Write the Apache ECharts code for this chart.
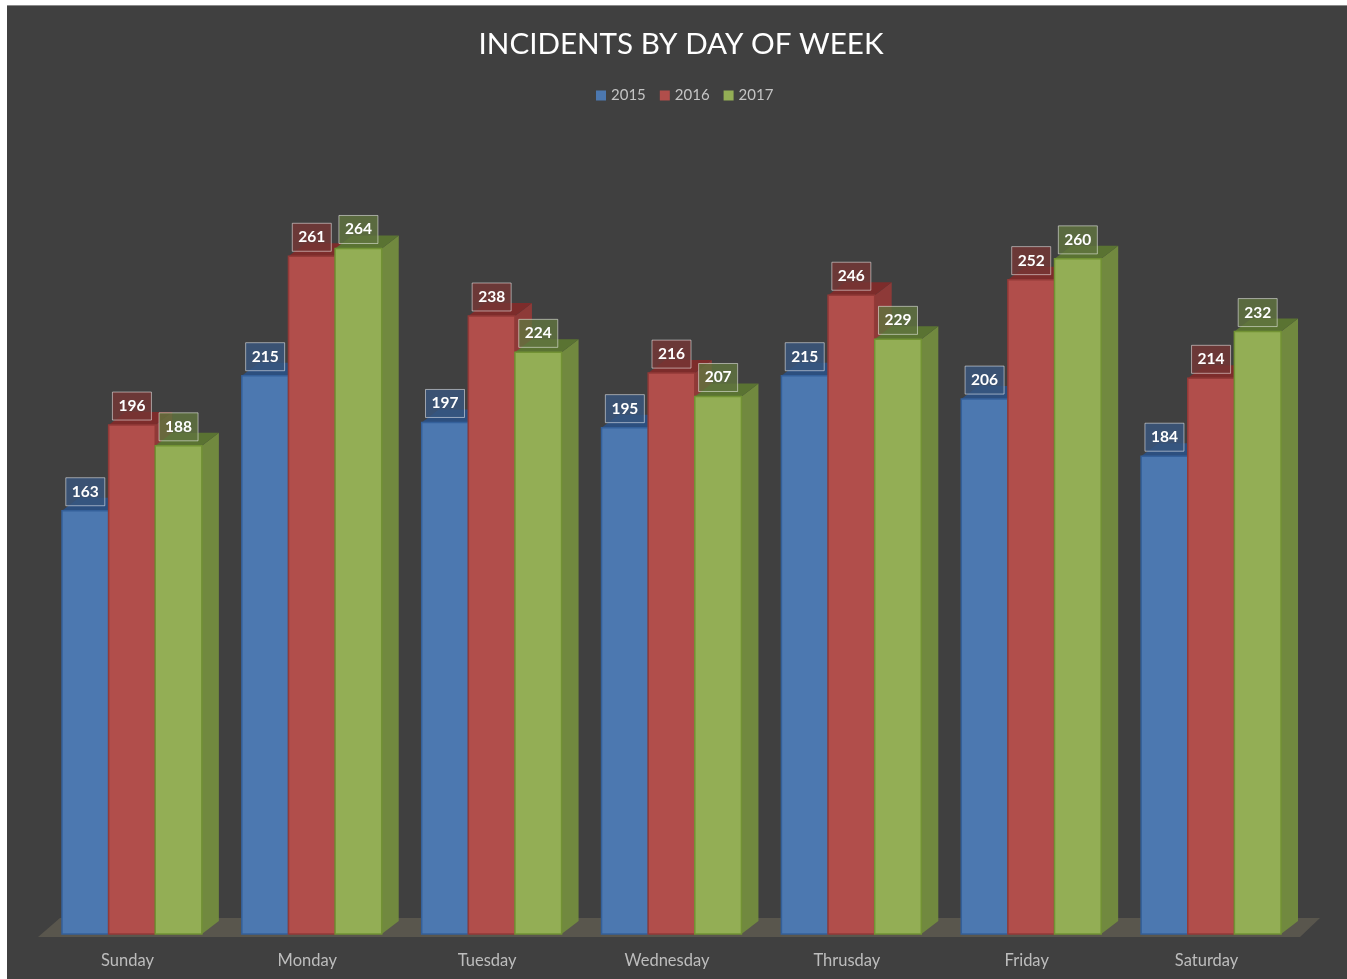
<!DOCTYPE html>
<html>
<head>
<meta charset="utf-8">
<title>Incidents by day of week</title>
<style>
    html, body { margin: 0; padding: 0; background: #fff; }
    #panel { position: absolute; left: 7px; top: 5px; width: 1340px; height: 974px; background: #404040; border-top: 1px solid #8a8a8a; box-sizing: border-box; }
    #main { position: absolute; left: 0; top: 0; width: 1347px; height: 979px; }
</style>
</head>
<body>
<div id="panel"></div>
<div id="main"></div>
<script src="https://cdn.jsdelivr.net/npm/echarts@6/dist/echarts.min.js"></script>
<script>
var days = ['Sunday', 'Monday', 'Tuesday', 'Wednesday', 'Thrusday', 'Friday', 'Saturday'];
var years = ['2015', '2016', '2017'];
var values2015 = [163, 215, 197, 195, 215, 206, 184];
var values2016 = [196, 261, 238, 216, 246, 252, 214];
var values2017 = [188, 264, 224, 207, 229, 260, 232];

// front, top, side, edge, label box
var colors = [
    ['#4c78b0', '#2c4f7f', '#3d6090', '#34609a', 'rgba(56,86,128,0.8)'],
    ['#b14e4b', '#7d2c2b', '#8e3a38', '#933a38', 'rgba(118,54,52,0.8)'],
    ['#93ae55', '#5a7332', '#71893f', '#729234', 'rgba(96,116,62,0.8)']
];

var depthX = 17;
var depthY = 13;

var myChart = echarts.init(document.getElementById('main'));

function barItem(seriesIndex) {
    return function (params, api) {
        var c = colors[seriesIndex];
        var base = api.coord([api.value(0), 0]);
        var top = api.coord([api.value(0), api.value(1)]);
        var w = api.size([1, 0])[0] * 140 / 180 / 3;
        var x0 = top[0] + (seriesIndex - 1.5) * w;
        var x1 = x0 + w;
        var y0 = top[1];
        var y1 = base[1];
        return {
            type: 'group',
            children: [
                {
                    type: 'polygon',
                    shape: { points: [[x1, y0], [x1 + depthX, y0 - depthY], [x1 + depthX, y1 - depthY], [x1, y1]] },
                    style: { fill: c[2] }
                },
                {
                    type: 'polygon',
                    shape: { points: [[x0, y0], [x0 + depthX, y0 - depthY], [x1 + depthX, y0 - depthY], [x1, y0]] },
                    style: { fill: c[1] }
                },
                {
                    type: 'rect',
                    shape: { x: x0, y: y0, width: w, height: y1 - y0 },
                    style: { fill: c[0], stroke: c[3], lineWidth: 1.5 }
                },
                {
                    type: 'rect',
                    z2: 100,
                    shape: { x: x0 + w / 2 - 19.5, y: y0 - 33, width: 39, height: 28 },
                    style: { fill: c[4], stroke: 'rgba(255,255,255,0.5)', lineWidth: 1 }
                },
                {
                    type: 'text',
                    z2: 101,
                    x: x0 + w / 2,
                    y: y0 - 19,
                    style: {
                        text: String(api.value(1)),
                        align: 'center',
                        verticalAlign: 'middle',
                        fill: '#fff',
                        font: 'bold 15.5px Lato'
                    }
                }
            ]
        };
    };
}

function floorItem(params) {
    var g = params.coordSys;
    var y0 = g.y + g.height + 3;
    var y1 = y0 - 19;
    return {
        type: 'polygon',
        shape: { points: [[g.x - 4, y0], [g.x + 18, y1], [g.x + g.width + 19, y1], [g.x + g.width - 1, y0]] },
        style: { fill: '#59564d' }
    };
}

function barSeries(i, values) {
    return {
        name: years[i],
        type: 'custom',
        renderItem: barItem(i),
        clip: false,
        itemStyle: { color: colors[i][0] },
        encode: { x: 0, y: 1 },
        data: values.map(function (v, k) { return [k, v]; })
    };
}

var option = {
    backgroundColor: 'transparent',
    animation: false,
    title: {
        text: 'INCIDENTS BY DAY OF WEEK',
        left: 676,
        top: 24,
        textAlign: 'center',
        textStyle: { color: '#fff', fontFamily: 'Lato', fontWeight: 'normal', fontSize: 29.6 }
    },
    legend: {
        data: years,
        left: 591,
        top: 83,
        icon: 'rect',
        itemWidth: 10,
        itemHeight: 10,
        itemGap: 14,
        textStyle: { color: '#c4c4c4', fontFamily: 'Lato', fontSize: 15 }
    },
    grid: { left: 42, right: 46, top: 155, bottom: 45 },
    xAxis: {
        type: 'category',
        data: days,
        axisLine: { show: false },
        axisTick: { show: false },
        axisLabel: { color: '#bdbdbd', fontFamily: 'Lato', fontSize: 16.5, margin: 18, padding: [0, 9, 0, 0] }
    },
    yAxis: {
        type: 'value',
        min: 0,
        max: 300,
        show: false,
        splitLine: { show: false }
    },
    series: [
        {
            name: 'floor',
            type: 'custom',
            renderItem: floorItem,
            silent: true,
            clip: false,
            data: [[0, 0]]
        },
        barSeries(0, values2015),
        barSeries(1, values2016),
        barSeries(2, values2017)
    ]
};

myChart.setOption(option);
window.addEventListener('resize', function () {
    myChart.resize();
});
</script>
</body>
</html>
